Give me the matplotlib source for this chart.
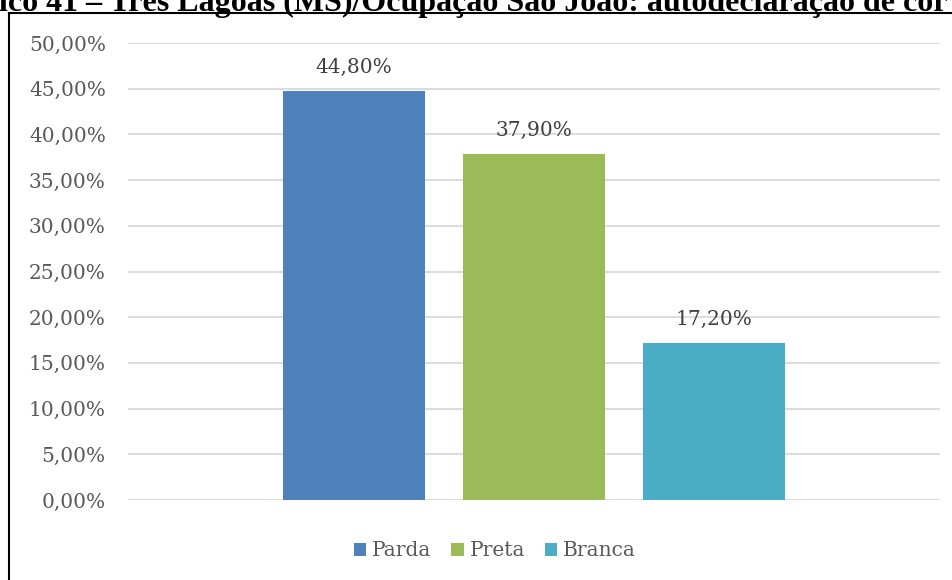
import matplotlib
matplotlib.use("Agg")
import matplotlib.pyplot as plt
from matplotlib.lines import Line2D
from matplotlib.patches import Patch

# Data
categories = ["Parda", "Preta", "Branca"]
values = [0.448, 0.379, 0.172]
colors = ["#4f81bd", "#9bbb59", "#4bacc6"]
yticks = [0.0, 0.05, 0.10, 0.15, 0.20, 0.25, 0.30, 0.35, 0.40, 0.45, 0.50]
title = "Gráfico 41 – Três Lagoas (MS)/Ocupação São João: autodeclaração de cor"


def pct(v):
    return f"{v * 100:.2f}%".replace(".", ",")


W, H = 953, 580
fig = plt.figure(figsize=(W / 100, H / 100), dpi=100)

# Chart area in pixel terms
ax = fig.add_axes([128 / W, 1 - 500 / H, 812 / W, 457 / H])

x = list(range(len(categories)))
ax.bar(x, values, width=0.79, color=colors, zorder=3)

for xi, v in zip(x, values):
    ax.annotate(pct(v), (xi, v), xytext=(0, 10), textcoords="offset points",
                ha="center", va="bottom", fontsize=14.5,
                family="DejaVu Serif", color="#404040")

ax.set_xlim(-1.256, 3.256)
ax.set_ylim(0, 0.5)
ax.set_yticks(yticks)
ax.set_yticklabels([pct(t) for t in yticks], family="DejaVu Serif",
                   fontsize=14.5, color="#595959")
ax.tick_params(axis="y", length=0, pad=16)
ax.set_xticks([])
ax.grid(axis="y", color="#d9d9d9", linewidth=1.3, zorder=0)
for s in ax.spines.values():
    s.set_visible(False)

# Legend
handles = [Patch(facecolor=c, edgecolor="none") for c in colors]
fig.legend(handles, categories, loc="center", ncol=3, frameon=False,
           bbox_to_anchor=(495 / W, 1 - 551 / H),
           prop={"family": "DejaVu Serif", "size": 14.5},
           labelcolor="#595959", handlelength=0.6, handleheight=0.6,
           handletextpad=0.3, columnspacing=1.0)

# Outer frame (left and top edges visible)
fig.add_artist(Line2D([9 / W, 9 / W], [0, 1 - 13 / H], color="black",
                      linewidth=1.5, transform=fig.transFigure))
fig.add_artist(Line2D([9 / W, 1], [1 - 13 / H, 1 - 13 / H], color="black",
                      linewidth=1.5, transform=fig.transFigure))

# Title (cropped at the top and left like the source)
fig.text(948 / W, 1 - 11 / H, title, ha="right", va="baseline",
         fontsize=23, fontweight="bold", family="Liberation Serif",
         color="black")

fig.savefig("out.png", dpi=100)
